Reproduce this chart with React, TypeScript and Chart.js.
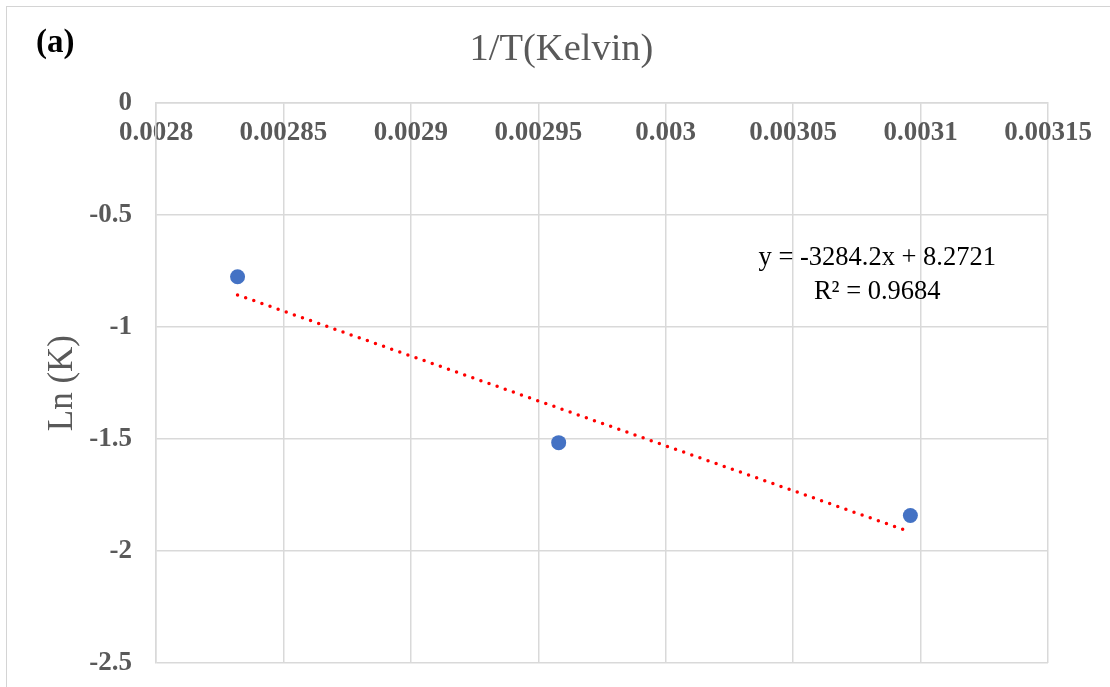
import React, { useEffect, useRef } from 'react';
import { Chart, registerables } from 'chart.js';

Chart.register(...registerables);

// ---- data ----
const pointX = [0.002832, 0.002958, 0.003096];
const pointY = [-0.775, -1.516, -1.841];
const trendX = [0.002832, 0.003096];
const trendY = [-0.856, -1.915];
const xTickLabels = ['0.0028', '0.00285', '0.0029', '0.00295', '0.003', '0.00305', '0.0031', '0.00315'];
const yTickLabels = ['-2.5', '-2', '-1.5', '-1', '-0.5', '0'];
const chartTitle = '1/T(Kelvin)';
const yAxisTitle = 'Ln (K)';
const panelLabel = '(a)';
const equationLines = ['y = -3284.2x + 8.2721', 'R² = 0.9684'];
const equationAnchor = { x: 0.003083, y: -0.69 };

const SERIF = "'Liberation Serif', 'Times New Roman', serif";
const GRID = '#d9d9d9';
const TEXT_GRAY = '#595959';

const equationPlugin = {
  id: 'equationLabel',
  afterDatasetsDraw(chart: any) {
    const { ctx, scales } = chart;
    const px = scales.x.getPixelForValue(equationAnchor.x);
    const py = scales.y.getPixelForValue(equationAnchor.y);
    ctx.save();
    ctx.fillStyle = '#000000';
    ctx.font = `26.5px ${SERIF}`;
    ctx.textAlign = 'center';
    ctx.textBaseline = 'middle';
    equationLines.forEach((line, i) => ctx.fillText(line, px, py + i * 34));
    ctx.restore();
  },
};

const zeroPadding = (s: any) => {
  s.paddingTop = 0;
  s.paddingBottom = 0;
  s.paddingLeft = 0;
  s.paddingRight = 0;
};

export default function App() {
  const canvasRef = useRef<HTMLCanvasElement | null>(null);

  useEffect(() => {
    if (!canvasRef.current) return;
    const chart = new Chart(canvasRef.current, {
      type: 'scatter',
      data: {
        datasets: [
          {
            label: 'Ln (K)',
            data: pointX.map((x, i) => ({ x, y: pointY[i] })),
            backgroundColor: '#4472C4',
            borderColor: '#4472C4',
            pointRadius: 7.5,
            pointBorderWidth: 0,
            showLine: false,
          },
          {
            label: 'Linear trend',
            data: trendX.map((x, i) => ({ x, y: trendY[i] })),
            showLine: true,
            borderColor: '#FF0000',
            borderWidth: 3.5,
            borderDash: [0, 8.6],
            borderCapStyle: 'round',
            pointRadius: 0,
            fill: false,
          },
        ],
      },
      options: {
        animation: false,
        responsive: false,
        devicePixelRatio: 1,
        layout: { padding: { left: 13, right: 0, top: 0, bottom: 24 } },
        plugins: {
          legend: { display: false },
          tooltip: { enabled: false },
          title: {
            display: true,
            text: chartTitle,
            color: TEXT_GRAY,
            font: { family: SERIF, size: 38.5, weight: 'normal' },
            padding: { top: 27, bottom: 30 },
          },
        },
        scales: {
          x: {
            type: 'linear',
            axis: 'x',
            position: { y: 0 } as any,
            min: 0.0028,
            max: 0.00315,
            afterFit: zeroPadding,
            grid: { color: GRID, lineWidth: 1.5, drawTicks: false },
            border: { display: true, color: GRID, width: 1.5 },
            ticks: {
              stepSize: 0.00005,
              autoSkip: false,
              maxRotation: 0,
              minRotation: 0,
              padding: 14,
              color: TEXT_GRAY,
              font: { family: SERIF, size: 27, weight: 'bold' },
              callback: (_v: any, i: number) => xTickLabels[i],
            },
          },
          y: {
            type: 'linear',
            position: 'left',
            min: -2.5,
            max: 0,
            afterFit: (s: any) => {
              s.width = 143;
              zeroPadding(s);
            },
            grid: { color: GRID, lineWidth: 1.5, drawTicks: false },
            border: { display: true, color: GRID, width: 1.5 },
            ticks: {
              stepSize: 0.5,
              padding: 24,
              color: TEXT_GRAY,
              font: { family: SERIF, size: 27, weight: 'bold' },
              callback: (_v: any, i: number) => yTickLabels[i],
            },
            title: {
              display: true,
              text: yAxisTitle,
              color: TEXT_GRAY,
              font: { family: SERIF, size: 35, weight: 'normal' },
              padding: { top: 29, bottom: 0 },
            },
          },
          yRightSpace: {
            type: 'linear',
            position: 'right',
            min: -2.5,
            max: 0,
            afterFit: (s: any) => {
              s.width = 62;
              zeroPadding(s);
            },
            grid: { display: false, drawOnChartArea: false },
            border: { display: false },
            ticks: { display: false },
          },
        },
      },
      plugins: [equationPlugin],
    });
    return () => chart.destroy();
  }, []);

  return (
    <div
      style={{
        position: 'fixed',
        left: 0,
        top: 0,
        width: 1110,
        height: 687,
        overflow: 'hidden',
        background: '#ffffff',
      }}
    >
      <canvas ref={canvasRef} width={1110} height={687} style={{ display: 'block' }} />
      <div
        style={{
          position: 'absolute',
          left: 6,
          top: 6,
          width: 1300,
          height: 900,
          border: '1px solid #d4d4d4',
          pointerEvents: 'none',
        }}
      />
      <div
        style={{
          position: 'absolute',
          left: 36,
          top: 25,
          fontFamily: SERIF,
          fontWeight: 'bold',
          fontSize: 33,
          lineHeight: '33px',
          color: '#000000',
        }}
      >
        {panelLabel}
      </div>
    </div>
  );
}
